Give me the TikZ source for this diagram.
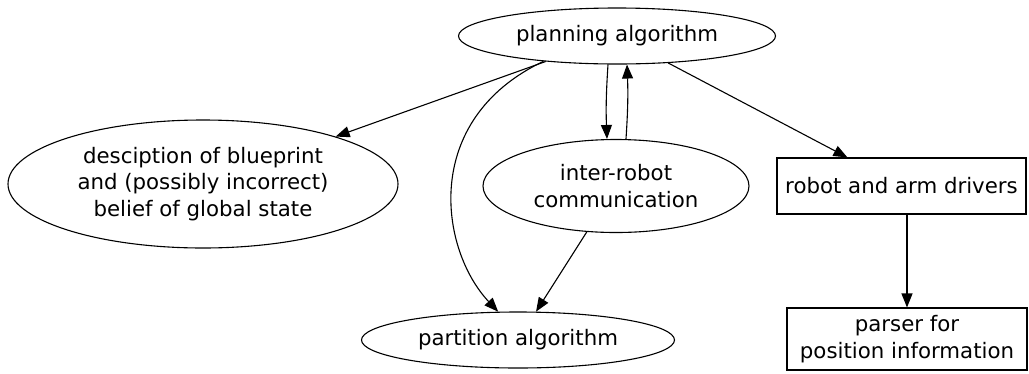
\documentclass[tikz,border=0pt]{standalone}
\usepackage{fontspec}
\setmainfont{DejaVu Sans}
\usetikzlibrary{shapes.geometric,arrows.meta}
\begin{document}
\begin{tikzpicture}[x=1pt,y=-1pt,
  every node/.style={font=\fontsize{21.3}{26.5}\selectfont, inner sep=0pt, align=center},
  oval/.style={draw, ellipse, line width=1.1pt},
  boxnode/.style={draw, rectangle, line width=1.1pt},
  link/.style={line width=1.1pt, -{Triangle[length=14pt,width=11pt]}}]
  \useasboundingbox (0,0) rectangle (1029,373);

  % nodes
  \node[oval, minimum width=317pt, minimum height=56pt] (plan) at (617,36) {planning algorithm};
  \node[oval, minimum width=390pt, minimum height=128pt] (desc) at (203,184)
    {desciption of blueprint\\and (possibly incorrect)\\belief of global state};
  \node[oval, minimum width=266pt, minimum height=93pt] (comm) at (616,186)
    {inter-robot\\communication};
  \node[boxnode, minimum width=249pt, minimum height=56pt] (drv) at (901.5,186) {robot and arm drivers};
  \node[oval, minimum width=313pt, minimum height=56pt] (part) at (518,340) {partition algorithm};
  \node[boxnode, minimum width=240pt, minimum height=62pt] (pars) at (907,339)
    {parser for\\position information};

  % connectors
  \draw[link] (plan) -- (desc);
  \draw[link] (plan) -- (drv);
  \draw[link] (plan.199) .. controls (420,120) and (440,250) .. (part.125);
  \draw[link] ([xshift=-9pt]plan.south) to[bend right=3] ([xshift=-9pt]comm.north);
  \draw[link] ([xshift=10pt]comm.north) to[bend right=3] ([xshift=10pt]plan.south);
  \draw[link] (comm) -- (part);
  \draw[link] (pars.north |- drv.south) -- (pars.north);
\end{tikzpicture}
\end{document}
